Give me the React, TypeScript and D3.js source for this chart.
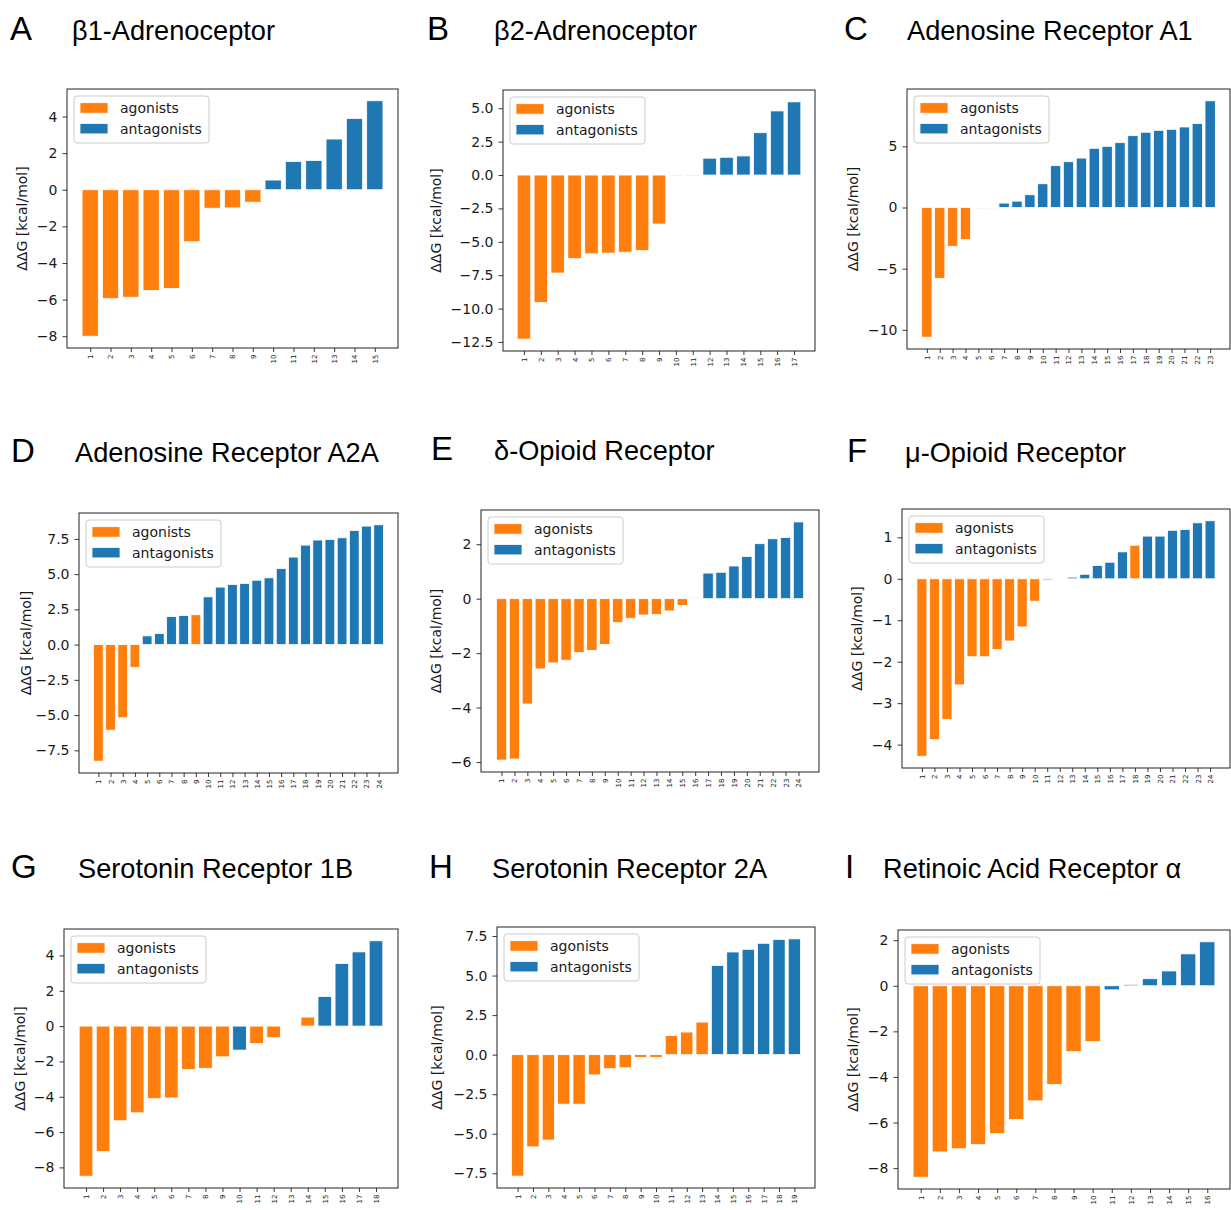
import { useEffect, useRef } from "react";
import * as d3 from "d3";

const ORANGE = "#ff7f0e";
const BLUE = "#1f77b4";

// ddG values per receptor (kcal/mol); kinds: A = agonist, N = antagonist
const b1Values = [-8.0, -5.95, -5.87, -5.5, -5.39, -2.84, -1.01, -0.99, -0.68, 0.53, 1.54, 1.6, 2.77, 3.89, 4.86];
const b1Kinds = "AAAAAAAAANNNNNN";
const b1Ticks = [-8, -6, -4, -2, 0, 2, 4];

const b2Values = [-12.29, -9.55, -7.34, -6.26, -5.9, -5.85, -5.78, -5.65, -3.67, -0.02, -0.02, 1.26, 1.33, 1.43, 3.17, 4.8, 5.48];
const b2Kinds = "AAAAAAAAANNNNNNNN";
const b2Ticks = [-12.5, -10, -7.5, -5, -2.5, 0, 2.5, 5];

const a1Values = [-10.6, -5.79, -3.17, -2.62, -0.05, -0.05, 0.36, 0.52, 1.04, 1.94, 3.42, 3.74, 4.04, 4.84, 5.0, 5.3, 5.87, 6.15, 6.31, 6.39, 6.58, 6.86, 8.72];
const a1Kinds = "AAAANNNNNNNNNNNNNNNNNNN";
const a1Ticks = [-10, -5, 0, 5];

const a2aValues = [-8.27, -6.07, -5.19, -1.61, 0.62, 0.78, 1.99, 2.06, 2.12, 3.39, 4.08, 4.27, 4.34, 4.57, 4.74, 5.4, 6.21, 7.06, 7.42, 7.46, 7.58, 8.1, 8.41, 8.5];
const a2aKinds = "AAAANNNNANNNNNNNNNNNNNNN";
const a2aTicks = [-7.5, -5, -2.5, 0, 2.5, 5, 7.5];

const deltaValues = [-5.93, -5.89, -3.87, -2.58, -2.36, -2.26, -1.98, -1.9, -1.68, -0.88, -0.72, -0.6, -0.58, -0.45, -0.25, 0.03, 0.94, 0.97, 1.2, 1.55, 2.02, 2.2, 2.25, 2.82];
const deltaKinds = "AAAAAAAAAAAAAAANNNNNNNNN";
const deltaTicks = [-6, -4, -2, 0, 2];

const muValues = [-4.28, -3.88, -3.39, -2.56, -1.88, -1.88, -1.71, -1.5, -1.16, -0.54, -0.03, 0.01, 0.04, 0.11, 0.32, 0.4, 0.65, 0.81, 1.03, 1.03, 1.17, 1.19, 1.35, 1.4];
const muKinds = "AAAAAAAAAAANNNNNNANNNNNN";
const muTicks = [-4, -3, -2, -1, 0, 1];

const ht1bValues = [-8.5, -7.1, -5.36, -4.91, -4.11, -4.07, -2.46, -2.39, -1.74, -1.36, -0.98, -0.66, -0.03, 0.51, 1.67, 3.54, 4.2, 4.83];
const ht1bKinds = "AAAAAAAAANAAAANNNN";
const ht1bTicks = [-8, -6, -4, -2, 0, 2, 4];

const ht2aValues = [-7.68, -5.83, -5.4, -3.13, -3.13, -1.28, -0.89, -0.83, -0.17, -0.17, 1.21, 1.43, 2.06, 5.64, 6.49, 6.66, 7.04, 7.28, 7.32];
const ht2aKinds = "AAAAAAAAAAAAANNNNNN";
const ht2aTicks = [-7.5, -5, -2.5, 0, 2.5, 5, 7.5];

const raraValues = [-8.4, -7.29, -7.15, -6.97, -6.49, -5.87, -5.05, -4.33, -2.89, -2.45, -0.18, 0.06, 0.31, 0.65, 1.4, 1.93];
const raraKinds = "AAAAAAAAAANNNNNN";
const raraTicks = [-8, -6, -4, -2, 0, 2];

const legendLabels = ["agonists", "antagonists"];

const panels = [
  { letter: "A", title: "β1-Adrenoceptor", values: b1Values, kinds: b1Kinds, ticks: b1Ticks, fmt: "d" },
  { letter: "B", title: "β2-Adrenoceptor", values: b2Values, kinds: b2Kinds, ticks: b2Ticks, fmt: ".1f" },
  { letter: "C", title: "Adenosine Receptor A1", values: a1Values, kinds: a1Kinds, ticks: a1Ticks, fmt: "d" },
  { letter: "D", title: "Adenosine Receptor A2A", values: a2aValues, kinds: a2aKinds, ticks: a2aTicks, fmt: ".1f" },
  { letter: "E", title: "δ-Opioid Receptor", values: deltaValues, kinds: deltaKinds, ticks: deltaTicks, fmt: "d" },
  { letter: "F", title: "μ-Opioid Receptor", values: muValues, kinds: muKinds, ticks: muTicks, fmt: "d" },
  { letter: "G", title: "Serotonin Receptor 1B", values: ht1bValues, kinds: ht1bKinds, ticks: ht1bTicks, fmt: "d" },
  { letter: "H", title: "Serotonin Receptor 2A", values: ht2aValues, kinds: ht2aKinds, ticks: ht2aTicks, fmt: ".1f" },
  { letter: "I", title: "Retinoic Acid Receptor α", values: raraValues, kinds: raraKinds, ticks: raraTicks, fmt: "d" },
];

// axes boxes and header positions
const layout = [
  { l: 67, r: 398, t: 89, b: 348, letterX: 10, titleX: 72, baseY: 40, labelX: 22 },
  { l: 503, r: 815, t: 90, b: 351, letterX: 427, titleX: 494, baseY: 40, labelX: 436 },
  { l: 907, r: 1230, t: 89, b: 349, letterX: 844, titleX: 907, baseY: 40, labelX: 853 },
  { l: 79, r: 398, t: 513, b: 773, letterX: 11, titleX: 75, baseY: 462, labelX: 26 },
  { l: 481, r: 819, t: 510, b: 772, letterX: 431, titleX: 494, baseY: 460, labelX: 436 },
  { l: 902, r: 1230, t: 509, b: 768, letterX: 847, titleX: 905, baseY: 462, labelX: 857 },
  { l: 64, r: 398, t: 929, b: 1188, letterX: 11, titleX: 78, baseY: 878, labelX: 20 },
  { l: 497, r: 815, t: 927, b: 1188, letterX: 429, titleX: 492, baseY: 878, labelX: 437 },
  { l: 898, r: 1230, t: 930, b: 1189, letterX: 845, titleX: 883, baseY: 878, labelX: 853 },
];

const tickFont = "'DejaVu Sans', sans-serif";
const headFont = "'Liberation Sans', Arial, Helvetica, sans-serif";

const Panel = ({ panel, box }: any) => {
  const ref = useRef<SVGGElement>(null);

  useEffect(() => {
    const g = d3.select(ref.current);
    g.selectAll("*").remove();

    const values: number[] = panel.values;
    const kinds: string[] = panel.kinds.split("");
    const n = values.length;

    // matplotlib-like autoscale with 5% margins
    const span = n - 0.2;
    const x = d3
      .scaleLinear()
      .domain([0.6 - 0.05 * span, n + 0.4 + 0.05 * span])
      .range([box.l, box.r]);
    const lo = Math.min(0, d3.min(values) as number);
    const hi = Math.max(0, d3.max(values) as number);
    const m = (hi - lo) * 0.05;
    const y = d3.scaleLinear().domain([lo - m, hi + m]).range([box.b, box.t]);

    const bw = x(1.8) - x(1);

    g.append("g")
      .selectAll("rect")
      .data(values)
      .enter()
      .append("rect")
      .attr("x", (d, i) => x(i + 1) - bw / 2)
      .attr("width", bw)
      .attr("y", (d) => y(Math.max(0, d)))
      .attr("height", (d) => Math.abs(y(d) - y(0)))
      .attr("fill", (d, i) => (kinds[i] === "A" ? ORANGE : BLUE))
      .attr("stroke", "white")
      .attr("stroke-width", 0.8);

    // y axis
    const yAxis = d3
      .axisLeft(y)
      .tickValues(panel.ticks)
      .tickFormat(d3.format(panel.fmt) as any)
      .tickSize(4.5)
      .tickSizeOuter(0)
      .tickPadding(5);
    const ya = g.append("g").attr("transform", `translate(${box.l},0)`).call(yAxis);
    ya.select(".domain").remove();
    ya.selectAll("text").attr("font-family", tickFont).attr("font-size", 14).attr("fill", "#1a1a1a");
    ya.selectAll("line").attr("stroke", "#222").attr("stroke-width", 0.9);

    // x axis with rotated labels
    const xAxis = d3
      .axisBottom(x)
      .tickValues(d3.range(1, n + 1))
      .tickFormat(d3.format("d") as any)
      .tickSize(4)
      .tickSizeOuter(0);
    const xa = g.append("g").attr("transform", `translate(0,${box.b})`).call(xAxis);
    xa.select(".domain").remove();
    xa.selectAll("line").attr("stroke", "#222").attr("stroke-width", 0.9);
    xa.selectAll("text")
      .attr("font-family", tickFont)
      .attr("font-size", 7)
      .attr("fill", "#1a1a1a")
      .attr("transform", "rotate(-90)")
      .attr("text-anchor", "end")
      .attr("x", -6.5)
      .attr("y", 0)
      .attr("dy", "0.35em");

    // frame
    g.append("rect")
      .attr("x", box.l)
      .attr("y", box.t)
      .attr("width", box.r - box.l)
      .attr("height", box.b - box.t)
      .attr("fill", "none")
      .attr("stroke", "#222")
      .attr("stroke-width", 1);

    // y label
    g.append("text")
      .attr("transform", `translate(${box.labelX},${(box.t + box.b) / 2}) rotate(-90)`)
      .attr("text-anchor", "middle")
      .attr("dy", "0.35em")
      .attr("font-family", tickFont)
      .attr("font-size", 14)
      .attr("fill", "#1a1a1a")
      .text("ΔΔG [kcal/mol]");

    // legend
    const lg = g.append("g").attr("transform", `translate(${box.l + 7},${box.t + 7})`);
    lg.append("rect")
      .attr("width", 135)
      .attr("height", 47)
      .attr("rx", 3)
      .attr("fill", "white")
      .attr("fill-opacity", 0.8)
      .attr("stroke", "#cccccc")
      .attr("stroke-width", 1);
    legendLabels.forEach((label, i) => {
      lg.append("rect")
        .attr("x", 6)
        .attr("y", 6.7 + i * 20.7)
        .attr("width", 28)
        .attr("height", 10.5)
        .attr("fill", i === 0 ? ORANGE : BLUE)
        .attr("stroke", "white")
        .attr("stroke-width", 0.8);
      lg.append("text")
        .attr("x", 46)
        .attr("y", 17 + i * 20.7)
        .attr("font-family", tickFont)
        .attr("font-size", 14)
        .attr("fill", "#1a1a1a")
        .text(label);
    });

    // header
    g.append("text")
      .attr("x", box.letterX)
      .attr("y", box.baseY)
      .attr("font-family", headFont)
      .attr("font-size", 33)
      .attr("fill", "#000")
      .text(panel.letter);
    g.append("text")
      .attr("x", box.titleX)
      .attr("y", box.baseY)
      .attr("font-family", headFont)
      .attr("font-size", 27.2)
      .attr("fill", "#000")
      .text(panel.title);
  }, [panel, box]);

  return <g ref={ref} />;
};

const App = () => {
  useEffect(() => {
    document.body.style.margin = "0";
  }, []);

  return (
    <svg width={1231} height={1210} viewBox="0 0 1231 1210" style={{ display: "block", background: "white" }}>
      <rect width={1231} height={1210} fill="white" />
      {panels.map((p, i) => (
        <Panel key={p.letter} panel={p} box={layout[i]} />
      ))}
    </svg>
  );
};

export default App;
